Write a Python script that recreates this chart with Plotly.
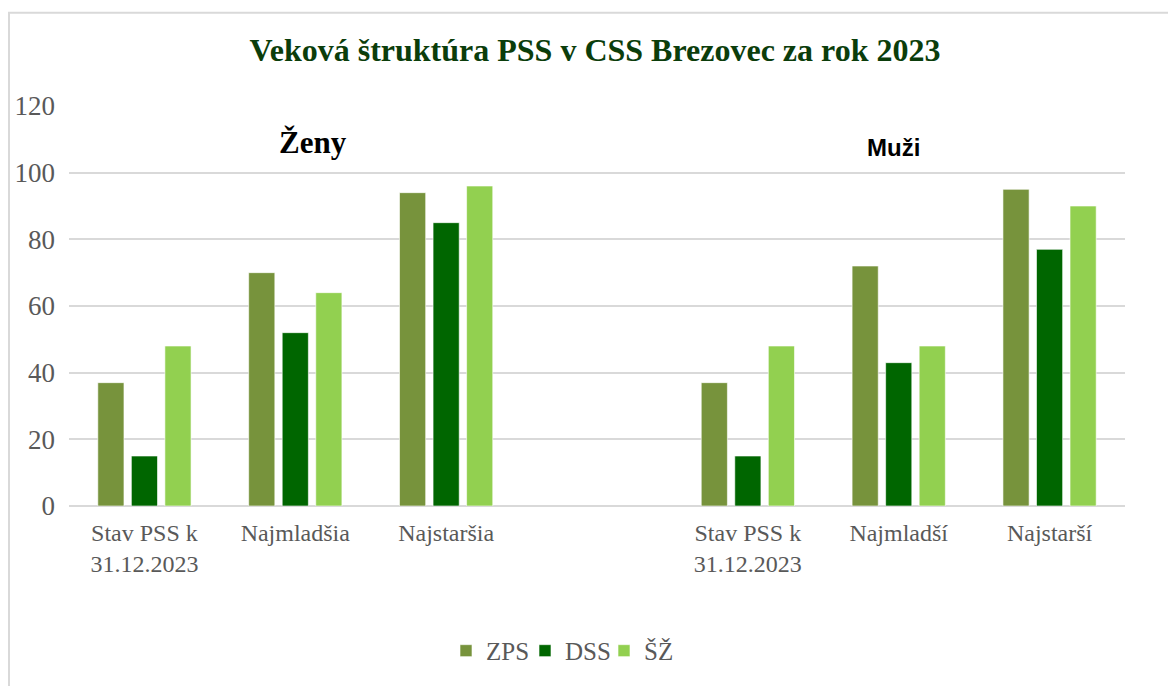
import plotly.graph_objects as go

categories = ["Stav PSS k<br>31.12.2023", "Najmladšia", "Najstaršia", "",
              "Stav PSS k<br>31.12.2023", "Najmladší", "Najstarší"]
series_names = ["ZPS", "DSS", "ŠŽ"]
zps = [37, 70, 94, None, 37, 72, 95]
dss = [15, 52, 85, None, 15, 43, 77]
sz = [48, 64, 96, None, 48, 48, 90]
colors = ["#77933C", "#006600", "#92D050"]
y_ticks = [0, 20, 40, 60, 80, 100, 120]

xpos = list(range(len(categories)))

fig = go.Figure()
for name, vals, col in zip(series_names, [zps, dss, sz], colors):
    fig.add_trace(go.Bar(
        x=xpos, y=vals, name=name,
        marker=dict(color=col, line=dict(color="rgba(255,255,255,0.6)", width=1)),
    ))

W, H = 1168, 686
L, R, T, B = 69, 43, 106, 177
pw, ph = W - L - R, H - T - B

def px(x):
    return (x - L) / pw

def py(y):
    return (H - B - y) / ph

SERIF = "Liberation Serif, Times New Roman, serif"

fig.update_layout(
    width=W, height=H,
    margin=dict(l=L, r=R, t=T, b=B),
    paper_bgcolor="white", plot_bgcolor="white",
    barmode="group", bargap=0.333, bargroupgap=0.22,
    font=dict(family=SERIF, color="#595959", size=24),
    title=dict(
        text="<b>Veková štruktúra PSS v CSS Brezovec za rok 2023</b>",
        x=px(595), xanchor="center", xref="paper",
        y=1 - 50 / H, yanchor="middle", yref="container",
        font=dict(family=SERIF, size=32, color="#0B3D0B"),
    ),
    xaxis=dict(
        tickmode="array", tickvals=xpos, ticktext=categories,
        range=[-0.5, len(categories) - 0.5],
        showgrid=False, zeroline=False, showline=False, ticks="",
        ticklabelstandoff=10, automargin=False,
        tickfont=dict(size=24, color="#595959"),
    ),
    yaxis=dict(
        range=[0, 120], tickvals=y_ticks,
        showgrid=True, gridcolor="#D9D9D9", gridwidth=1.5,
        zeroline=True, zerolinecolor="#D9D9D9", zerolinewidth=1.5,
        showline=False, ticks="", ticklabelstandoff=13, automargin=False,
        tickfont=dict(size=27, color="#595959"),
    ),
    legend=dict(
        orientation="h", x=px(446), xanchor="left",
        y=py(655), yanchor="middle",
        font=dict(size=25, color="#595959"),
        itemwidth=30, traceorder="normal",
        entrywidth=34, entrywidthmode="pixels",
    ),
    showlegend=True,
)

fig.add_annotation(text="<b>Ženy</b>", x=px(313), y=py(143), xref="paper", yref="paper",
                   xanchor="center", yanchor="middle", showarrow=False,
                   font=dict(family=SERIF, size=31, color="black"))
fig.add_annotation(text="<b>Muži</b>", x=px(893), y=py(148), xref="paper", yref="paper",
                   xanchor="center", yanchor="middle", showarrow=False,
                   font=dict(family="Liberation Sans, Arial, sans-serif", size=24, color="black"))

# chart border
fig.add_shape(type="line", xref="paper", yref="paper", x0=px(8), x1=px(1175), y0=py(12), y1=py(12),
              line=dict(color="#D9D9D9", width=2))
fig.add_shape(type="line", xref="paper", yref="paper", x0=px(9), x1=px(9), y0=py(12), y1=py(700),
              line=dict(color="#D9D9D9", width=2))

fig.write_html("out.html", config={"displayModeBar": False},
               post_script="document.body.style.margin='0';")
